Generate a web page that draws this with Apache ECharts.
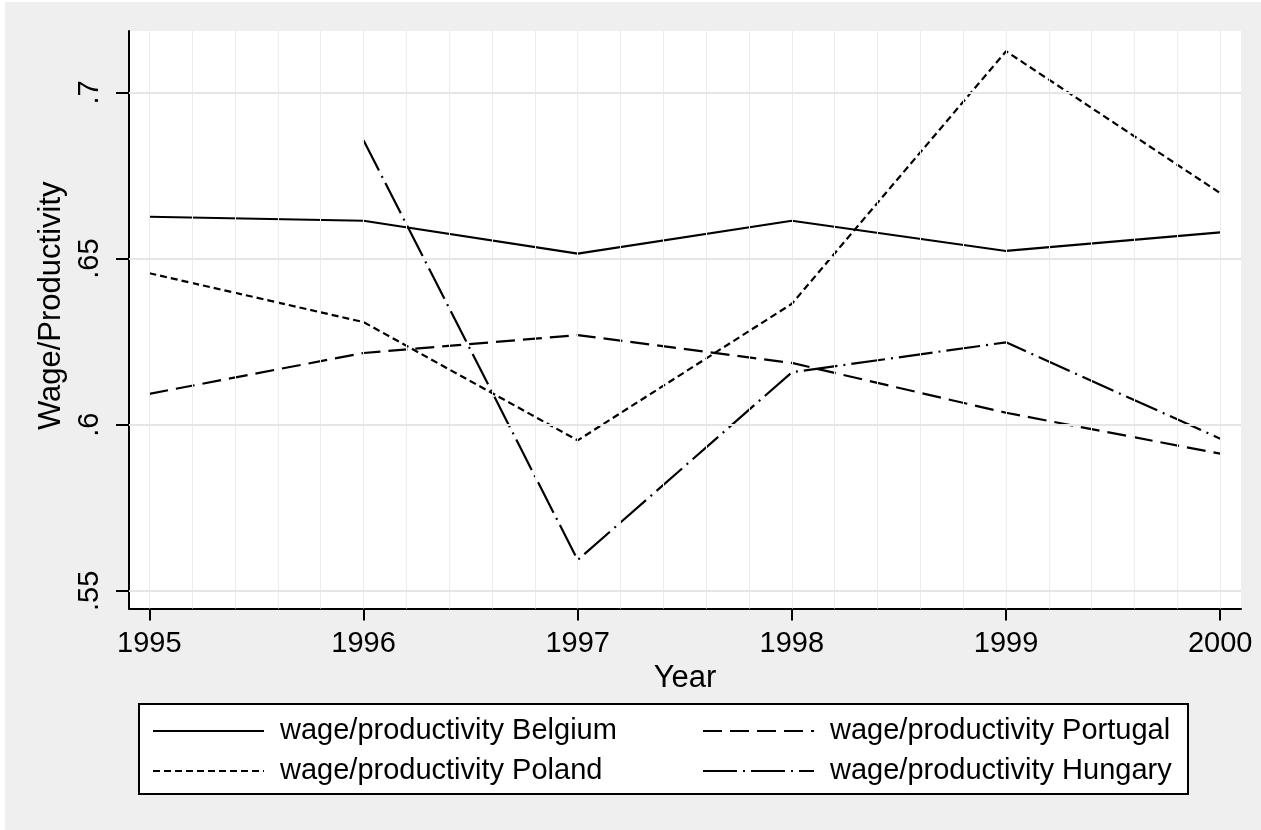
<!DOCTYPE html>
<html>
<head>
<meta charset="utf-8">
<script src="https://cdn.jsdelivr.net/npm/echarts@6/dist/echarts.min.js"></script>
<style>
html,body{margin:0;padding:0;background:#ffffff;}
#chart{width:1261px;height:830px;}
</style>
</head>
<body>
<div id="chart"></div>
<script>
// ---- data ----
const years = [1995, 1996, 1997, 1998, 1999, 2000];
const belgium  = [0.6626, 0.6614, 0.6515, 0.6614, 0.6523, 0.6579];
const portugal = [0.6093, 0.6216, 0.6270, 0.6186, 0.6036, 0.5913];
const poland   = [0.6456, 0.6309, 0.5953, 0.6364, 0.7124, 0.6697];
const hungary  = [null,   0.6856, 0.5593, 0.6158, 0.6248, 0.5958];
const yTicks = [0.55, 0.60, 0.65, 0.70];
const xTicks = [1995, 1996, 1997, 1998, 1999, 2000];
const names = {
  belgium: 'wage/productivity Belgium',
  portugal: 'wage/productivity Portugal',
  poland: 'wage/productivity Poland',
  hungary: 'wage/productivity Hungary'
};

const FONT = 'Liberation Sans, Arial, sans-serif';
const minorX = [];
for (let i = 0; i <= 25; i++) minorX.push(Math.round((1995 + i * 0.2) * 10) / 10);

function pairs(vals) { return years.map((y, i) => [y, vals[i]]); }

function lineSeries(name, vals, dash) {
  return {
    name: name, type: 'line', data: pairs(vals), symbol: 'none', showSymbol: false,
    connectNulls: false, z: 3,
    lineStyle: { color: '#000', width: 2.2, type: dash },
    itemStyle: { color: '#000' },
    emphasis: { disabled: true }
  };
}

const legendCommon = {
  orient: 'vertical', top: 716,
  itemWidth: 111, itemHeight: 30, itemGap: 10, padding: 0,
  itemStyle: { color: 'rgba(0,0,0,0)', borderWidth: 0, opacity: 0 },
  textStyle: { fontSize: 29, color: '#000', fontFamily: FONT, lineHeight: 30, padding: [0, 0, 0, 11] },
  selectedMode: false
};

const chart = echarts.init(document.getElementById('chart'), null, { renderer: 'canvas' });
chart.setOption({
  animation: false,
  backgroundColor: '#efefef',
  textStyle: { fontFamily: FONT },
  grid: {
    left: 129, top: 31, width: 1112, height: 577.5,
    show: true, backgroundColor: '#ffffff', borderWidth: 0
  },
  xAxis: {
    type: 'value', min: 1994.905, max: 2000.097,
    name: 'Year', nameLocation: 'middle', nameGap: 51,
    nameTextStyle: { fontSize: 31, color: '#000', fontFamily: FONT },
    axisLine: { show: true, onZero: false, lineStyle: { color: '#000', width: 2 } },
    axisTick: { show: true, customValues: xTicks, length: 12, lineStyle: { color: '#000', width: 2 } },
    axisLabel: { customValues: xTicks, fontSize: 29, color: '#000', margin: 21, fontFamily: FONT,
      formatter: v => String(Math.round(v)) },
    splitLine: { show: false }
  },
  yAxis: {
    type: 'value', min: 0.5447, max: 0.7185,
    name: 'Wage/Productivity', nameLocation: 'middle', nameGap: 53, nameRotate: 90,
    nameTextStyle: { fontSize: 31, color: '#000', fontFamily: FONT, padding: [0, 0, 0, 28] },
    axisLine: { show: true, onZero: false, lineStyle: { color: '#000', width: 2 } },
    axisTick: { show: true, customValues: yTicks, length: 13, lineStyle: { color: '#000', width: 2 } },
    axisLabel: { customValues: yTicks, rotate: 90, fontSize: 29, color: '#000', margin: 25, fontFamily: FONT,
      formatter: v => String(v).replace(/^0/, '') },
    splitLine: { show: false }
  },
  legend: [
    Object.assign({}, legendCommon, { data: [names.belgium, names.poland], left: 152 }),
    Object.assign({}, legendCommon, { data: [names.portugal, names.hungary], left: 702 })
  ],
  graphic: [
    { type: 'rect', z: -1, shape: { x: 139, y: 704, width: 1049, height: 90 },
      style: { fill: '#ffffff', stroke: '#000', lineWidth: 2 } },
    { type: 'rect', z: 100, shape: { x: 0, y: 0, width: 1261, height: 2 }, style: { fill: '#ffffff' } },
    { type: 'rect', z: 100, shape: { x: 0, y: 0, width: 5, height: 830 }, style: { fill: '#ffffff' } }
  ],
  series: [
    {
      type: 'line', data: [], z: 1, silent: true,
      markLine: {
        silent: true, symbol: ['none', 'none'], label: { show: false }, animation: false,
        lineStyle: { type: 'solid', color: '#ececec', width: 1 },
        emphasis: { disabled: true },
        data: minorX.map(v => ({ xAxis: v }))
      }
    },
    {
      type: 'line', data: [], z: 1, silent: true,
      markLine: {
        silent: true, symbol: ['none', 'none'], label: { show: false }, animation: false,
        lineStyle: { type: 'solid', color: '#e6e6e6', width: 2 },
        emphasis: { disabled: true },
        data: yTicks.map(v => ({ yAxis: v }))
      }
    },
    lineSeries(names.belgium, belgium, 'solid'),
    lineSeries(names.portugal, portugal, [19, 8]),
    lineSeries(names.poland, poland, [7, 4]),
    lineSeries(names.hungary, hungary, [34, 6, 2, 6])
  ]
});
</script>
</body>
</html>
